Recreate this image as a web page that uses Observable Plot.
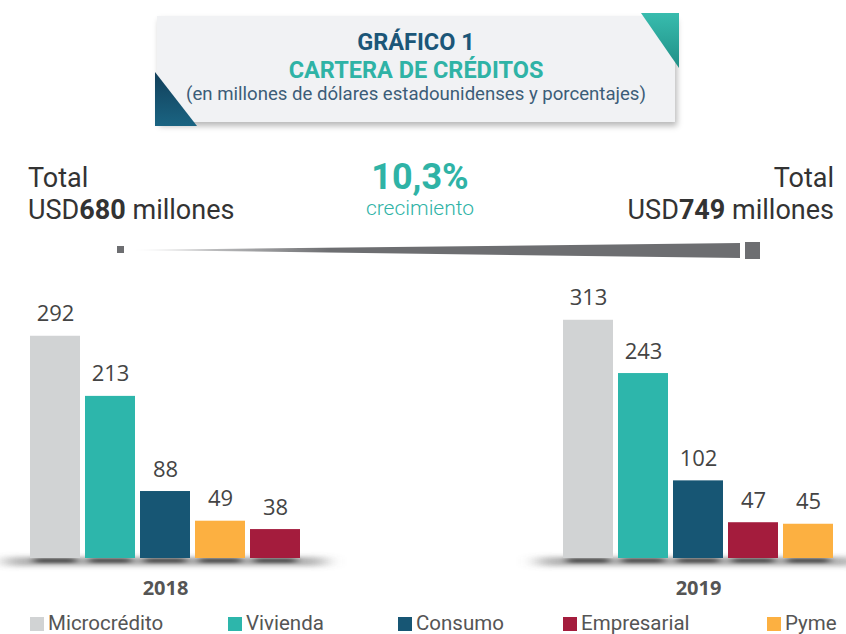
<!DOCTYPE html>
<html><head><meta charset="utf-8">
<script src="https://cdn.jsdelivr.net/npm/d3@7"></script>
<script src="https://cdn.jsdelivr.net/npm/@observablehq/plot@0.6"></script>
<style>
body{margin:0;background:#fff;}
#page{position:relative;width:846px;height:634px;overflow:hidden;font-family:Roboto,sans-serif;background:#fff;}
.abs{position:absolute;}
#box{left:157px;top:16px;width:518px;height:106px;background:#f1f2f4;box-shadow:2px 4px 6px rgba(0,0,0,0.28);}
#triR{left:641px;top:13px;width:38px;height:55px;background:linear-gradient(#38bcae,#1f8f86);clip-path:polygon(0 0,100% 0,100% 100%);}
#triL{left:155px;top:72px;width:42px;height:54px;background:linear-gradient(#123f5a,#1a6482);clip-path:polygon(0 0,0 100%,100% 100%);}
.ht{left:157px;width:518px;text-align:center;white-space:nowrap;}
#legend div{position:absolute;top:611px;font-size:20.5px;color:#555;white-space:nowrap;line-height:24px;}
#legend span{display:inline-block;width:14px;height:14px;margin-right:4px;vertical-align:-1px;}
</style></head><body><div id="page"></div>
<script>
const categories = ["Microcrédito", "Vivienda", "Consumo", "Empresarial", "Pyme"];
const colors = ["#d1d3d4", "#2db6ab", "#175674", "#a41c3d", "#fcb041"];
const years = ["2018", "2019"];
const values2018 = [292, 213, 88, 38, 49];
const values2019 = [313, 243, 102, 47, 45];
const totals = [680, 749];
const growth = "10,3%";
const titleLines = ["GRÁFICO 1", "CARTERA DE CRÉDITOS", "(en millones de dólares estadounidenses y porcentajes)"];

function build(year, vals) {
  const rows = categories.map((c, i) => ({year, category: c, value: vals[i]}));
  rows.sort((a, b) => b.value - a.value).forEach((r, i) => r.rank = i + 1);
  return rows;
}
const data = [...build(years[0], values2018), ...build(years[1], values2019)];

const page = document.getElementById("page");
page.innerHTML = `
<div id="box" class="abs"></div>
<div id="triR" class="abs"></div>
<div id="triL" class="abs"></div>
<div class="abs ht" style="top:28px;font-size:23.5px;font-weight:700;color:#1b5678;">${titleLines[0]}</div>
<div class="abs ht" style="top:56px;font-size:23.5px;font-weight:700;color:#2fb3a6;">${titleLines[1]}</div>
<div class="abs ht" style="top:83px;font-size:18.6px;color:#3c5d78;">${titleLines[2]}</div>
<div class="abs" style="left:28px;top:162px;font-size:27px;color:#333;line-height:32px;">Total<br>USD<b style="font-weight:700">${totals[0]}</b> millones</div>
<div class="abs" style="right:12px;top:162px;font-size:27px;color:#333;line-height:32px;text-align:right;">Total<br>USD<b style="font-weight:700">${totals[1]}</b> millones</div>
<div class="abs" style="left:320px;width:200px;top:156px;text-align:center;font-size:36px;font-weight:700;color:#2fb3a6;">${growth}</div>
<div class="abs" style="left:320px;width:200px;top:196px;text-align:center;font-size:21px;color:#2fb3a6;font-weight:300;">crecimiento</div>
<svg class="abs" style="left:0;top:236px" width="846" height="30">
  <defs><linearGradient id="wedgeGrad" gradientUnits="userSpaceOnUse" x1="134" x2="330" y1="0" y2="0">
    <stop offset="0" stop-color="#6d6e71" stop-opacity="0.1"/><stop offset="1" stop-color="#6d6e71" stop-opacity="1"/></linearGradient></defs>
  <rect x="117" y="10" width="7" height="7" fill="#6d6e71"/>
  <polygon points="134,14 740,7 740,22" fill="url(#wedgeGrad)"/>
  <rect x="745" y="6" width="15" height="17" fill="#6d6e71"/>
</svg>
<div id="legend"></div>`;

const legendX = [30, 228, 398, 563, 767];
document.getElementById("legend").innerHTML = categories.map((c, i) =>
  `<div style="left:${legendX[i]}px"><span style="background:${colors[i]}"></span>${c}</div>`).join("");

const chart = Plot.plot({
  width: 846, height: 340,
  marginTop: 14, marginBottom: 52, marginLeft: 28, marginRight: 11,
  fx: {domain: years, paddingInner: 0.486, paddingOuter: 0, label: null},
  x: {domain: [1, 2, 3, 4, 5], paddingInner: 0.085, paddingOuter: 0, axis: null},
  y: {domain: [0, 360], axis: null},
  color: {domain: categories, range: colors},
  style: {fontFamily: "Open Sans, sans-serif", background: "transparent", overflow: "visible"},
  marks: [
    Plot.ruleY([0], {stroke: "#666", strokeWidth: 9, strokeOpacity: 0.5, dy: 3, insetLeft: -22, insetRight: -22}),
    Plot.tickY(data, {fx: "year", x: "rank", y: 0, stroke: "#000", strokeWidth: 5, strokeOpacity: 0.55, dy: 2, inset: 4}),
    Plot.barY(data, {fx: "year", x: "rank", y: "value", fill: "category"}),
    Plot.text(data, {fx: "year", x: "rank", y: "value", text: d => String(d.value), dy: -22, fontSize: 22, fill: "#444"}),
    Plot.axisFx({anchor: "bottom", tickSize: 0, tickPadding: 22, fontSize: 20, fontWeight: "bold", color: "#555", label: null})
  ]
});
const svg = d3.select(chart);
const defs = svg.insert("defs", ":first-child");
defs.append("filter").attr("id", "blurWide").attr("filterUnits", "userSpaceOnUse")
  .attr("x", -50).attr("y", -50).attr("width", 950).attr("height", 450)
  .append("feGaussianBlur").attr("stdDeviation", "10 2.5");
defs.append("filter").attr("id", "blurBar").attr("filterUnits", "userSpaceOnUse")
  .attr("x", -50).attr("y", -50).attr("width", 950).attr("height", 450)
  .append("feGaussianBlur").attr("stdDeviation", "5 1.5");
svg.selectAll("g[aria-label='rule']").attr("filter", "url(#blurWide)");
svg.selectAll("g[aria-label='tick']").attr("filter", "url(#blurBar)");
chart.style.position = "absolute";
chart.style.left = "0px";
chart.style.top = "270px";
page.appendChild(chart);
</script></body></html>
